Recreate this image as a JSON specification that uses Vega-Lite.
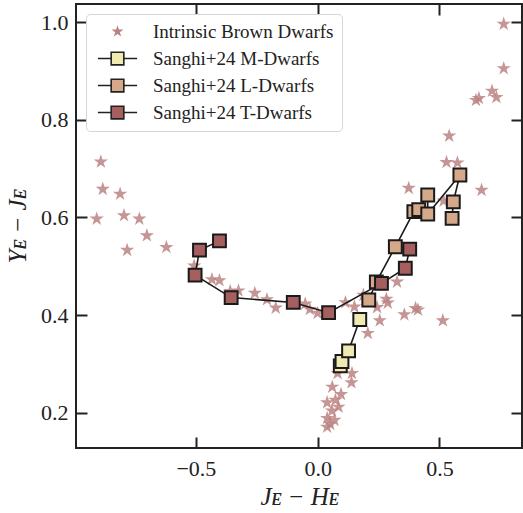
{
  "$schema": "https://vega.github.io/schema/vega-lite/v6.json",
  "width": 446,
  "height": 444,
  "autosize": {"type": "none"},
  "padding": {"left": 76, "top": 4, "right": 1, "bottom": 65},
  "background": "white",
  "config": {
    "font": "Liberation Serif",
    "view": {"stroke": "#222", "strokeWidth": 2},
    "legend": {"labelFont": "Liberation Serif", "labelFontSize": 19, "labelLimit": 400},
    "axis": {
      "grid": false,
      "domain": false,
      "tickColor": "#222",
      "tickWidth": 2,
      "tickSize": -11,
      "labelFont": "Liberation Serif",
      "labelFontSize": 22,
      "labelColor": "#222",
      "titleFont": "Liberation Serif",
      "titleFontSize": 25,
      "titleFontWeight": "normal",
      "titleFontStyle": "italic",
      "titleColor": "#222"
    }
  },
  "data": {
    "values": [
      {"series": "Intrinsic Brown Dwarfs", "x": -0.890, "y": 0.714, "order": 0},
      {"series": "Intrinsic Brown Dwarfs", "x": -0.882, "y": 0.658, "order": 0},
      {"series": "Intrinsic Brown Dwarfs", "x": -0.811, "y": 0.648, "order": 0},
      {"series": "Intrinsic Brown Dwarfs", "x": -0.907, "y": 0.597, "order": 0},
      {"series": "Intrinsic Brown Dwarfs", "x": -0.795, "y": 0.604, "order": 0},
      {"series": "Intrinsic Brown Dwarfs", "x": -0.732, "y": 0.597, "order": 0},
      {"series": "Intrinsic Brown Dwarfs", "x": -0.701, "y": 0.563, "order": 0},
      {"series": "Intrinsic Brown Dwarfs", "x": -0.782, "y": 0.533, "order": 0},
      {"series": "Intrinsic Brown Dwarfs", "x": -0.621, "y": 0.539, "order": 0},
      {"series": "Intrinsic Brown Dwarfs", "x": -0.507, "y": 0.501, "order": 0},
      {"series": "Intrinsic Brown Dwarfs", "x": -0.434, "y": 0.473, "order": 0},
      {"series": "Intrinsic Brown Dwarfs", "x": -0.403, "y": 0.471, "order": 0},
      {"series": "Intrinsic Brown Dwarfs", "x": -0.359, "y": 0.449, "order": 0},
      {"series": "Intrinsic Brown Dwarfs", "x": -0.325, "y": 0.450, "order": 0},
      {"series": "Intrinsic Brown Dwarfs", "x": -0.258, "y": 0.445, "order": 0},
      {"series": "Intrinsic Brown Dwarfs", "x": -0.208, "y": 0.432, "order": 0},
      {"series": "Intrinsic Brown Dwarfs", "x": -0.172, "y": 0.415, "order": 0},
      {"series": "Intrinsic Brown Dwarfs", "x": -0.051, "y": 0.423, "order": 0},
      {"series": "Intrinsic Brown Dwarfs", "x": -0.032, "y": 0.412, "order": 0},
      {"series": "Intrinsic Brown Dwarfs", "x": 0.000, "y": 0.404, "order": 0},
      {"series": "Intrinsic Brown Dwarfs", "x": 0.114, "y": 0.426, "order": 0},
      {"series": "Intrinsic Brown Dwarfs", "x": 0.151, "y": 0.417, "order": 0},
      {"series": "Intrinsic Brown Dwarfs", "x": 0.188, "y": 0.441, "order": 0},
      {"series": "Intrinsic Brown Dwarfs", "x": 0.244, "y": 0.416, "order": 0},
      {"series": "Intrinsic Brown Dwarfs", "x": 0.282, "y": 0.433, "order": 0},
      {"series": "Intrinsic Brown Dwarfs", "x": 0.288, "y": 0.425, "order": 0},
      {"series": "Intrinsic Brown Dwarfs", "x": 0.255, "y": 0.389, "order": 0},
      {"series": "Intrinsic Brown Dwarfs", "x": 0.206, "y": 0.363, "order": 0},
      {"series": "Intrinsic Brown Dwarfs", "x": 0.356, "y": 0.401, "order": 0},
      {"series": "Intrinsic Brown Dwarfs", "x": 0.402, "y": 0.414, "order": 0},
      {"series": "Intrinsic Brown Dwarfs", "x": 0.412, "y": 0.411, "order": 0},
      {"series": "Intrinsic Brown Dwarfs", "x": 0.514, "y": 0.389, "order": 0},
      {"series": "Intrinsic Brown Dwarfs", "x": 0.326, "y": 0.468, "order": 0},
      {"series": "Intrinsic Brown Dwarfs", "x": 0.374, "y": 0.660, "order": 0},
      {"series": "Intrinsic Brown Dwarfs", "x": 0.673, "y": 0.656, "order": 0},
      {"series": "Intrinsic Brown Dwarfs", "x": 0.529, "y": 0.713, "order": 0},
      {"series": "Intrinsic Brown Dwarfs", "x": 0.574, "y": 0.712, "order": 0},
      {"series": "Intrinsic Brown Dwarfs", "x": 0.540, "y": 0.767, "order": 0},
      {"series": "Intrinsic Brown Dwarfs", "x": 0.517, "y": 0.634, "order": 0},
      {"series": "Intrinsic Brown Dwarfs", "x": 0.764, "y": 0.996, "order": 0},
      {"series": "Intrinsic Brown Dwarfs", "x": 0.764, "y": 0.905, "order": 0},
      {"series": "Intrinsic Brown Dwarfs", "x": 0.716, "y": 0.859, "order": 0},
      {"series": "Intrinsic Brown Dwarfs", "x": 0.734, "y": 0.846, "order": 0},
      {"series": "Intrinsic Brown Dwarfs", "x": 0.650, "y": 0.840, "order": 0},
      {"series": "Intrinsic Brown Dwarfs", "x": 0.662, "y": 0.844, "order": 0},
      {"series": "Intrinsic Brown Dwarfs", "x": 0.141, "y": 0.281, "order": 0},
      {"series": "Intrinsic Brown Dwarfs", "x": 0.139, "y": 0.262, "order": 0},
      {"series": "Intrinsic Brown Dwarfs", "x": 0.082, "y": 0.281, "order": 0},
      {"series": "Intrinsic Brown Dwarfs", "x": 0.060, "y": 0.253, "order": 0},
      {"series": "Intrinsic Brown Dwarfs", "x": 0.096, "y": 0.238, "order": 0},
      {"series": "Intrinsic Brown Dwarfs", "x": 0.039, "y": 0.221, "order": 0},
      {"series": "Intrinsic Brown Dwarfs", "x": 0.073, "y": 0.226, "order": 0},
      {"series": "Intrinsic Brown Dwarfs", "x": 0.059, "y": 0.204, "order": 0},
      {"series": "Intrinsic Brown Dwarfs", "x": 0.086, "y": 0.212, "order": 0},
      {"series": "Intrinsic Brown Dwarfs", "x": 0.039, "y": 0.189, "order": 0},
      {"series": "Intrinsic Brown Dwarfs", "x": 0.052, "y": 0.177, "order": 0},
      {"series": "Intrinsic Brown Dwarfs", "x": 0.039, "y": 0.171, "order": 0},
      {"series": "Intrinsic Brown Dwarfs", "x": 0.069, "y": 0.185, "order": 0},
      {"series": "Sanghi+24 M-Dwarfs", "x": 0.093, "y": 0.296, "order": 1},
      {"series": "Sanghi+24 M-Dwarfs", "x": 0.100, "y": 0.305, "order": 2},
      {"series": "Sanghi+24 M-Dwarfs", "x": 0.127, "y": 0.327, "order": 3},
      {"series": "Sanghi+24 M-Dwarfs", "x": 0.173, "y": 0.391, "order": 4},
      {"series": "Sanghi+24 L-Dwarfs", "x": 0.210, "y": 0.431, "order": 1},
      {"series": "Sanghi+24 L-Dwarfs", "x": 0.241, "y": 0.468, "order": 2},
      {"series": "Sanghi+24 L-Dwarfs", "x": 0.319, "y": 0.540, "order": 3},
      {"series": "Sanghi+24 L-Dwarfs", "x": 0.395, "y": 0.612, "order": 4},
      {"series": "Sanghi+24 L-Dwarfs", "x": 0.415, "y": 0.616, "order": 5},
      {"series": "Sanghi+24 L-Dwarfs", "x": 0.452, "y": 0.646, "order": 6},
      {"series": "Sanghi+24 L-Dwarfs", "x": 0.452, "y": 0.607, "order": 7},
      {"series": "Sanghi+24 L-Dwarfs", "x": 0.584, "y": 0.687, "order": 8},
      {"series": "Sanghi+24 L-Dwarfs", "x": 0.557, "y": 0.632, "order": 9},
      {"series": "Sanghi+24 L-Dwarfs", "x": 0.552, "y": 0.598, "order": 10},
      {"series": "Sanghi+24 T-Dwarfs", "x": 0.378, "y": 0.535, "order": 1},
      {"series": "Sanghi+24 T-Dwarfs", "x": 0.360, "y": 0.496, "order": 2},
      {"series": "Sanghi+24 T-Dwarfs", "x": 0.262, "y": 0.465, "order": 3},
      {"series": "Sanghi+24 T-Dwarfs", "x": 0.045, "y": 0.405, "order": 4},
      {"series": "Sanghi+24 T-Dwarfs", "x": -0.100, "y": 0.426, "order": 5},
      {"series": "Sanghi+24 T-Dwarfs", "x": -0.355, "y": 0.436, "order": 6},
      {"series": "Sanghi+24 T-Dwarfs", "x": -0.503, "y": 0.482, "order": 7},
      {"series": "Sanghi+24 T-Dwarfs", "x": -0.485, "y": 0.533, "order": 8},
      {"series": "Sanghi+24 T-Dwarfs", "x": -0.403, "y": 0.552, "order": 9}
    ]
  },
  "layer": [
    {
      "transform": [{"filter": "datum.series === 'Intrinsic Brown Dwarfs'"}],
      "mark": {"type": "point", "shape": "M0,-1L0.225,-0.309L0.951,-0.309L0.363,0.118L0.588,0.809L0,0.382L-0.588,0.809L-0.363,0.118L-0.951,-0.309L-0.225,-0.309Z", "filled": true, "size": 225, "fillOpacity": 0.85, "strokeWidth": 0},
      "encoding": {
        "x": {"field": "x", "type": "quantitative", "scale": {"domain": [-0.992, 0.839], "nice": false, "zero": false},
              "axis": {"orient": "bottom", "values": [-0.5, 0, 0.5], "format": ".1f", "labelPadding": 21, "title": "Jᴇ − Hᴇ", "titlePadding": 5}},
        "y": {"field": "y", "type": "quantitative", "scale": {"domain": [0.128, 1.037], "nice": false, "zero": false},
              "axis": {"orient": "left", "values": [0.2, 0.4, 0.6, 0.8, 1.0], "format": ".1f", "labelPadding": 19, "title": "Yᴇ − Jᴇ", "titlePadding": 10}},
        "fill": {
          "field": "series", "type": "nominal",
          "scale": {
            "domain": ["Intrinsic Brown Dwarfs", "Sanghi+24 M-Dwarfs", "Sanghi+24 L-Dwarfs", "Sanghi+24 T-Dwarfs"],
            "range": ["#bc8282", "#eeeab2", "#d6a88a", "#a55f5f"]
          },
          "legend": {
            "title": null,
            "orient": "top-left",
            "offset": 10,
            "padding": 8,
            "labelFont": "Liberation Serif",
            "labelFontSize": 19,
            "labelLimit": 400,
            "labelColor": "#222",
            "labelOffset": 26,
            "symbolOffset": 14,
            "symbolSize": 160,
            "rowPadding": 6,
            "strokeColor": "#d6d6d6",
            "fillColor": "white",
            "cornerRadius": 4,
            "encode": {
              "symbols": {
                "update": {
                  "shape": {"signal": "datum.value === 'Intrinsic Brown Dwarfs' ? 'M0,-1L0.225,-0.309L0.951,-0.309L0.363,0.118L0.588,0.809L0,0.382L-0.588,0.809L-0.363,0.118L-0.951,-0.309L-0.225,-0.309Z' : 'M-3.1,0H-1M1,0H3.1M-1,-1H1V1H-1Z'"},
                  "stroke": {"signal": "datum.value === 'Intrinsic Brown Dwarfs' ? 'transparent' : '#222'"},
                  "strokeWidth": {"value": 1.6},
                  "fillOpacity": {"value": 1}
                }
              }
            }
          }
        }
      }
    },
    {
      "transform": [{"filter": "datum.series !== 'Intrinsic Brown Dwarfs'"}],
      "mark": {"type": "line", "color": "#1a1a1a", "strokeWidth": 1.6},
      "encoding": {
        "x": {"field": "x", "type": "quantitative", "axis": {"orient": "top", "values": [-0.5, 0, 0.5], "labels": false, "title": null}},
        "y": {"field": "y", "type": "quantitative", "axis": {"orient": "right", "values": [0.2, 0.4, 0.6, 0.8, 1.0], "labels": false, "title": null}},
        "detail": {"field": "series", "type": "nominal"},
        "order": {"field": "order", "type": "quantitative"}
      }
    },
    {
      "transform": [{"filter": "datum.series !== 'Intrinsic Brown Dwarfs'"}],
      "mark": {"type": "point", "shape": "square", "filled": true, "size": 165, "stroke": "#1a1a1a", "strokeWidth": 2, "opacity": 1},
      "encoding": {
        "x": {"field": "x", "type": "quantitative", "axis": null},
        "y": {"field": "y", "type": "quantitative", "axis": null},
        "fill": {"field": "series", "type": "nominal"}
      }
    }
  ],
  "resolve": {"axis": {"x": "independent", "y": "independent"}}
}
